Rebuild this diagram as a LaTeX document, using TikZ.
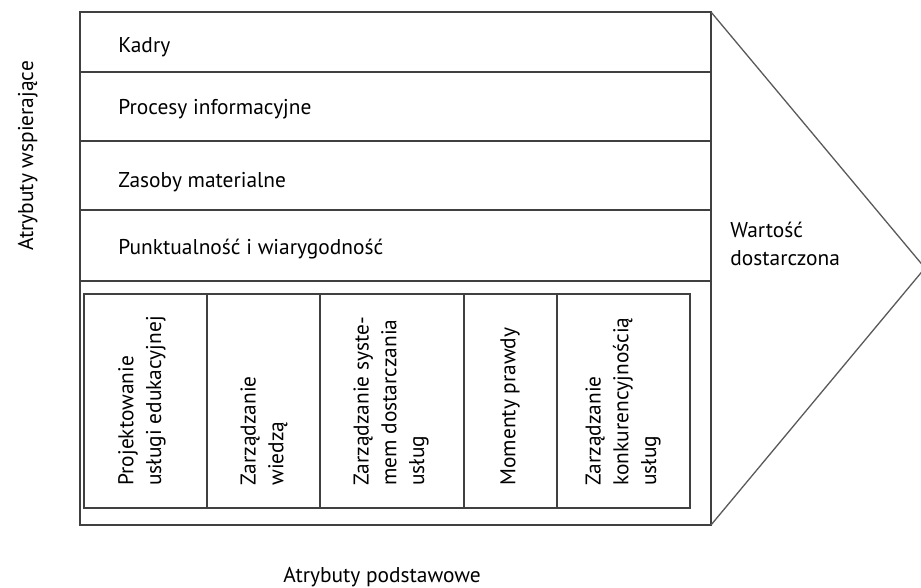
\documentclass[tikz,border=0pt]{standalone}
\usepackage{fontspec}
\setmainfont{PT Sans}
\begin{document}
\begin{tikzpicture}[x=0.5pt,y=-0.5pt,
  frame/.style={draw=black!75, line width=0.65pt},
  txt/.style={inner sep=0pt, font=\fontsize{10.7}{13.85}\selectfont, text=black},
  vtxt/.style={txt, rotate=90, anchor=west, align=left}]
\useasboundingbox (0,0) rectangle (921,588);

% supporting attributes: stacked rows
\draw[frame] (80,12) rectangle (711,525);
\foreach \y in {72,141,210,281}
  \draw[frame] (80,\y) -- (711,\y);

\node[txt, anchor=base west] (kadry) at (118,53) {Kadry};
\node[txt, anchor=base west] (procesy) at (118,115) {Procesy informacyjne};
\node[txt, anchor=base west] (zasoby) at (118,188) {Zasoby materialne};
\node[txt, anchor=base west] (punkt) at (118,255) {Punktualność i wiarygodność};

% core attributes: columns
\draw[frame] (84,294) rectangle (690,508);
\foreach \x in {207,320,464,557}
  \draw[frame] (\x,294) -- (\x,508);

\node[vtxt] (proj) at (142,486) {Projektowanie\\usługi edukacyjnej};
\node[vtxt] (wiedza) at (264,486) {Zarządzanie\\wiedzą};
\node[vtxt] (system) at (391,486) {Zarządzanie syste-\\mem dostarczania\\usług};
\node[vtxt] (momenty) at (510,486) {Momenty prawdy};
\node[vtxt] (konk) at (623,486) {Zarządzanie\\konkurencyjnością\\usług};

% delivered value arrow head
\coordinate (tip) at (925,268);
\draw[frame, draw=black!65] (711,12) -- (tip) -- (711,525);
\node[txt, anchor=west, align=left] (wartosc) at (730,244) {Wartość\\dostarczona};

% axis captions
\node[txt, rotate=90, anchor=base] (wspier) at (33,156) {Atrybuty wspierające};
\node[txt, anchor=base west] (podst) at (283,582) {Atrybuty podstawowe};
\end{tikzpicture}
\end{document}
